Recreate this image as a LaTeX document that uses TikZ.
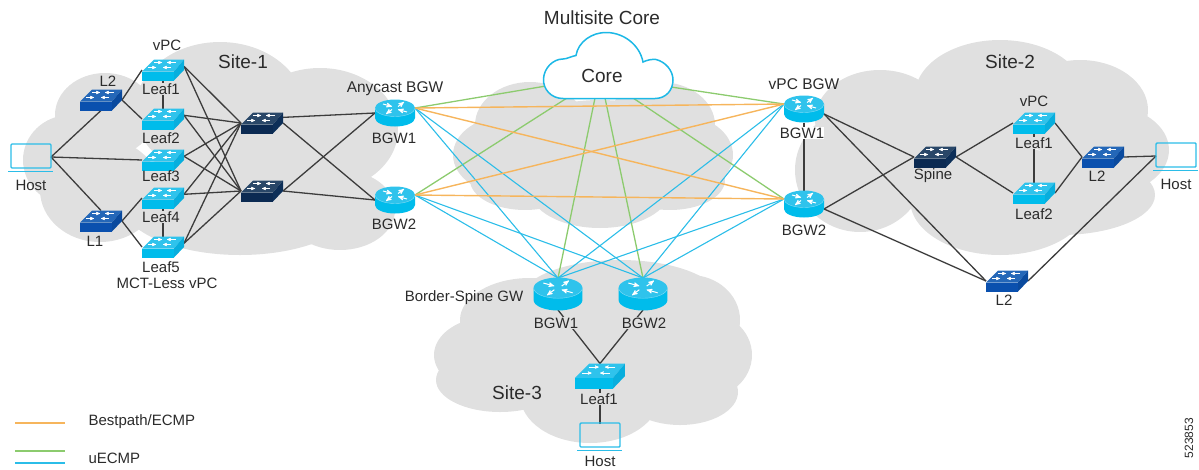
\documentclass[tikz,border=0pt]{standalone}
\usepackage{fontspec}
\setmainfont{Liberation Sans}
\usepackage{tikz}
\usetikzlibrary{arrows}

\definecolor{cloudgray}{HTML}{E0E0E0}
\definecolor{corecyan}{HTML}{1CB8E6}
\definecolor{leaffront}{HTML}{00BCEB}
\definecolor{leaftop}{HTML}{2FC3EC}
\definecolor{leafside}{HTML}{08AEDD}
\definecolor{lfront}{HTML}{0A50AE}
\definecolor{ltop}{HTML}{2467B8}
\definecolor{lside}{HTML}{0A4A9E}
\definecolor{spfront}{HTML}{0B2A52}
\definecolor{sptop}{HTML}{294768}
\definecolor{spside}{HTML}{0D2F58}
\definecolor{linkdark}{HTML}{3C3C3C}
\definecolor{linkorange}{HTML}{F6B55C}
\definecolor{linkgreen}{HTML}{8CCB6E}
\definecolor{linkblue}{HTML}{2BBDE8}
\definecolor{labeltext}{HTML}{2B2B2B}

\pgfdeclarelayer{cloudlayer}
\pgfdeclarelayer{linklayer}
\pgfsetlayers{cloudlayer,linklayer,main}

\tikzset{
  swbox/.style={rectangle,minimum width=42pt,minimum height=21pt,inner sep=0pt,outer sep=0pt},
  rtbox/.style={rectangle,minimum width=40pt,minimum height=27pt,inner sep=0pt,outer sep=0pt},
  bigrtbox/.style={rtbox,minimum width=49pt,minimum height=32pt},
  bigswbox/.style={swbox,minimum width=50pt,minimum height=25pt},
  hostbox/.style={rectangle,minimum width=40pt,minimum height=25pt,inner sep=0pt,outer sep=0pt},
  lab/.style={text=labeltext,font=\fontsize{15}{16}\selectfont,inner sep=.3pt},
  biglab/.style={lab,font=\fontsize{19}{21}\selectfont},
  anylab/.style={lab,font=\fontsize{15.5}{17}\selectfont},
  dark/.style={linkdark,line width=1.3pt},
  bestp/.style={linkorange,line width=1.4pt},
  uecg/.style={linkgreen,line width=1.3pt},
  uecb/.style={linkblue,line width=1.1pt},
}

% switch drawn over a named node
\newcommand{\swicon}[5][1]{%
  \begin{scope}[shift={(#2)},scale=#1]
    \fill[#3] (-21,1.5) rectangle (11,10.5);
    \fill[#4] (-21,1.5)--(-9,-10.5)--(21,-10.5)--(11,1.5)--cycle;
    \fill[#5] (11,1.5)--(21,-10.5)--(21,0)--(11,10.5)--cycle;
    \draw[white,line width=.5pt,->,>=stealth'] (-9,-7.5)--(-1,-7.5);
    \draw[white,line width=.5pt,->,>=stealth'] (13,-7.5)--(4,-7.5);
    \draw[white,line width=.5pt,->,>=stealth'] (-15,-2.5)--(-7,-2.5);
    \draw[white,line width=.5pt,->,>=stealth'] (8,-2.5)--(0,-2.5);
  \end{scope}}

% router drawn over a named node
\newcommand{\rticon}[2][1]{%
  \begin{scope}[shift={(#2)},scale=#1]
    \fill[leaffront] (-20,-5) -- (-20,5) arc[start angle=180,end angle=360,x radius=20,y radius=-8.5] -- (20,-5) -- cycle;
    \fill[leaftop] (0,-5) ellipse[x radius=20,y radius=8.5];
    \draw[leaftop!60!white,line width=.4pt] (-20,-5) arc[start angle=180,end angle=360,x radius=20,y radius=-8.5];
    \draw[white,line width=1pt,->,>=stealth'] (-12,-9)--(-3,-6.5);
    \draw[white,line width=1pt,->,>=stealth'] (12,-1)--(3,-3.5);
    \draw[white,line width=1pt,->,>=stealth'] (3,-6.5)--(9,-11);
    \draw[white,line width=1pt,->,>=stealth'] (-3,-3.5)--(-9,1);
  \end{scope}}

% laptop drawn over a named node
\newcommand{\hosticon}[1]{%
  \begin{scope}[shift={(#1)}]
    \draw[linkblue,line width=1.4pt,rounded corners=1pt] (-20,-13) rectangle (20,11);
    \draw[linkblue,line width=1.4pt] (-23,14.5)--(22,14.5);
  \end{scope}}

% gray site cloud from a list of ellipses
\newcommand{\sitecloud}[1]{%
  \foreach \cx/\cy/\rx/\ry in {#1}
    \fill[cloudgray] (\cx,\cy) ellipse[x radius=\rx,y radius=\ry];}

\begin{document}
\begin{tikzpicture}[x=1pt,y=-1pt]
\useasboundingbox (0,0) rectangle (1199,469);

% Site-1
\node[hostbox](hosta) at (31,157){};
\node[swbox](ltwoa) at (101,100){};
\node[swbox](lonea) at (101,221){};
\node[swbox](leafa) at (163,70){};
\node[swbox](leafb) at (163,119){};
\node[swbox](leafc) at (163,160){};
\node[swbox](leafd) at (163,198){};
\node[swbox](leafe) at (163,247){};
\node[swbox](spinea) at (262,123){};
\node[swbox](spineb) at (262,191){};
\node[rtbox](anyone) at (395,113){};
\node[rtbox](anytwo) at (395,200){};
% Site-2
\node[rtbox](vpcone) at (804,109){};
\node[rtbox](vpctwo) at (804,204){};
\node[swbox](spinec) at (935,157){};
\node[swbox](leaff) at (1034,123){};
\node[swbox](leafg) at (1034,193){};
\node[swbox](ltwob) at (1103,157){};
\node[swbox](ltwoc) at (1007,281){};
\node[hostbox](hostb) at (1176,156){};
% Site-3
\node[bigrtbox](bspone) at (558,294){};
\node[bigrtbox](bsptwo) at (643,294){};
\node[bigswbox](leafh) at (600,376){};
\node[hostbox](hostc) at (600,436){};
% ports on the core cloud
\coordinate (corea) at (546,86);
\coordinate (coreb) at (567,98);
\coordinate (corec) at (595,98);
\coordinate (cored) at (605,98);
\coordinate (coree) at (633,98);
\coordinate (coref) at (671,87);

\begin{pgfonlayer}{cloudlayer}
\sitecloud{105/115/50/42,70/160/47/45,100/190/60/52,220/110/85/68,320/130/78/62,240/200/120/55,340/210/55/40}
\sitecloud{530/125/55/43,660/125/55/43,510/155/57/40,680/155/53/40,600/150/100/50,525/180/55/30,600/190/70/38,670/180/55/30}
\sitecloud{1000/95/85/55,880/120/65/50,1080/110/68/50,1105/150/64/45,1060/195/95/40,1000/200/90/55,860/170/65/62,950/150/80/60}
\sitecloud{620/300/100/40,530/320/70/42,690/320/50/45,490/355/56/38,700/355/52/45,500/380/64/32,590/395/70/48,680/392/58/33,600/350/100/50}
\end{pgfonlayer}

\begin{pgfonlayer}{linklayer}
\draw[uecg](corea)edge(anyone.14);
\draw[uecg](coreb)edge(anytwo.14);
\draw[uecg](corec)edge(bspone.north);
\draw[uecg](cored)edge(bsptwo.north);
\draw[uecg](coree)edge(vpctwo.166);
\draw[uecg](coref)edge(vpcone.166);

\draw[uecb](anyone.14)edge(bspone.north);
\draw[uecb](anyone.14)edge(bsptwo.north);
\draw[uecb](anytwo.14)edge(bspone.north);
\draw[uecb](anytwo.14)edge(bsptwo.north);
\draw[uecb](vpcone.166)edge(bspone.north);
\draw[uecb](vpcone.166)edge(bsptwo.north);
\draw[uecb](vpctwo.166)edge(bspone.north);
\draw[uecb](vpctwo.166)edge(bsptwo.north);

\draw[bestp](anyone.14)edge(vpcone.166);
\draw[bestp](anyone.14)edge(vpctwo.166);
\draw[bestp](anytwo.14)edge(vpcone.166);
\draw[bestp](anytwo.14)edge(vpctwo.166);

\draw[dark](hosta.east)edge(ltwoa.south);
\draw[dark](hosta.east)edge(lonea.north);
\draw[dark](hosta.east)edge(leafc.west);
\draw[dark](ltwoa.east)edge(leafa.west);
\draw[dark](ltwoa.east)edge(leafb.west);
\draw[dark](lonea.east)edge(leafd.west);
\draw[dark](lonea.east)edge(leafe.west);
\draw[dark](leafa)edge(leafb);
\draw[dark](leafd)edge(leafe);
\foreach \lf in {leafa,leafb,leafc,leafd,leafe}{
  \draw[dark](\lf.10)edge(spinea.west);
  \draw[dark](\lf.10)edge(spineb.west);
}
\draw[dark](spinea.15)edge(anyone.west);
\draw[dark](spinea.east)edge(anytwo.west);
\draw[dark](spineb.east)edge(anyone.west);
\draw[dark](spineb.east)edge(anytwo.west);

\draw[dark](vpcone)edge(vpctwo);
\draw[dark](vpcone.-14)edge(spinec.west);
\draw[dark](vpcone.-14)edge(ltwoc.west);
\draw[dark](vpctwo.-14)edge(spinec.west);
\draw[dark](vpctwo.-14)edge(ltwoc.west);
\draw[dark](spinec.east)edge(leaff.west);
\draw[dark](spinec.east)edge(leafg.west);
\draw[dark](leaff)edge(leafg);
\draw[dark](leaff.east)edge(ltwob.west);
\draw[dark](leafg.east)edge(ltwob.west);
\draw[dark](ltwob.east)edge(hostb.west);
\draw[dark](ltwoc.east)edge(hostb.west);

\draw[dark](bspone.south)edge(leafh.north);
\draw[dark](bsptwo.south)edge(leafh.north);
\draw[dark](leafh)edge(hostc);
\end{pgfonlayer}

% core cloud
\draw[fill=white,draw=corecyan,line width=1.5pt] (563,98.5)
  .. controls (551,98.5) and (543,89) .. (543.5,79)
  .. controls (544,68) and (553,59) .. (563,59)
  .. controls (567,59) and (572,56) .. (576,55.5)
  .. controls (578,42) and (592,32) .. (607,32.5)
  .. controls (625,33) and (640,46) .. (643,62)
  .. controls (647,60) and (652,59) .. (656,59.5)
  .. controls (666,62) and (673,71) .. (673,80)
  .. controls (673,90) and (666,98.5) .. (655,98.5)
  -- cycle;
\node[biglab](corelab) at (602,76){Core};

\swicon{ltwoa}{lfront}{ltop}{lside}
\swicon{lonea}{lfront}{ltop}{lside}
\swicon{ltwob}{lfront}{ltop}{lside}
\swicon{ltwoc}{lfront}{ltop}{lside}
\foreach \lf in {leafa,leafb,leafc,leafd,leafe,leaff,leafg}{
  \swicon{\lf}{leaffront}{leaftop}{leafside}
}
\swicon[1.19]{leafh}{leaffront}{leaftop}{leafside}
\swicon{spinea}{spfront}{sptop}{spside}
\swicon{spineb}{spfront}{sptop}{spside}
\swicon{spinec}{spfront}{sptop}{spside}
\rticon{anyone}
\rticon{anytwo}
\rticon{vpcone}
\rticon{vpctwo}
\rticon[1.22]{bspone}
\rticon[1.22]{bsptwo}
\hosticon{hosta}
\hosticon{hostb}
\hosticon{hostc}

% labels
\node[biglab](mslab) at (602,18){Multisite Core};
\node[biglab](sitea) at (243,62){Site-1};
\node[biglab](siteb) at (1010,62){Site-2};
\node[biglab](sitec) at (517,393){Site-3};
\node[lab](vpca) at (167,45){vPC};
\node[lab](lbla) at (108,81){L2};
\node[lab,fill=cloudgray](lblb) at (161,89){Leaf1};
\node[lab](lblc) at (161,138){Leaf2};
\node[lab](lbld) at (161,176){Leaf3};
\node[lab,fill=cloudgray](lble) at (161,217){Leaf4};
\node[lab](lblf) at (161,267){Leaf5};
\node[lab](lblg) at (95,241){L1};
\node[lab](lblh) at (31,185){Host};
\node[lab](lbli) at (167,283){MCT-Less vPC};
\node[anylab](lblj) at (395,89){Anycast BGW};
\node[lab](lblk) at (394,138){BGW1};
\node[lab](lbll) at (394,224){BGW2};
\node[anylab](lblm) at (804,84){vPC BGW};
\node[lab,fill=white](lbln) at (802,133){BGW1};
\node[lab](lblo) at (804,230){BGW2};
\node[lab](lblp) at (933,176){Spine};
\node[lab](vpcb) at (1034,101){vPC};
\node[lab,fill=cloudgray](lblq) at (1034,143){Leaf1};
\node[lab](lblr) at (1034,214){Leaf2};
\node[lab](lbls) at (1097,176){L2};
\node[lab](lblt) at (1176,184){Host};
\node[lab](lblu) at (1004,300){L2};
\node[lab](lblv) at (464,298){Border-Spine GW};
\node[lab,fill=cloudgray](lblw) at (556,323){BGW1};
\node[lab,fill=cloudgray](lblx) at (644,323){BGW2};
\node[lab,fill=cloudgray](lbly) at (599,399){Leaf1};
\node[lab](lblz) at (600,461){Host};

% legend
\coordinate (bpa) at (15,423);
\coordinate (bpb) at (65,423);
\coordinate (uea) at (15,451);
\coordinate (ueb) at (65,451);
\coordinate (uec) at (15,463);
\coordinate (ued) at (65,463);
\draw[bestp,line width=1.7pt](bpa)--(bpb);
\draw[uecg,line width=1.7pt](uea)--(ueb);
\draw[uecb,line width=1.7pt](uec)--(ued);
\node[lab,anchor=west](bplab) at (88,422){Bestpath/ECMP};
\node[lab,anchor=west](uelab) at (88,458){uECMP};
\node[lab,font=\fontsize{12}{14}\selectfont,rotate=90](figno) at (1189,438){523853};
\end{tikzpicture}
\end{document}
